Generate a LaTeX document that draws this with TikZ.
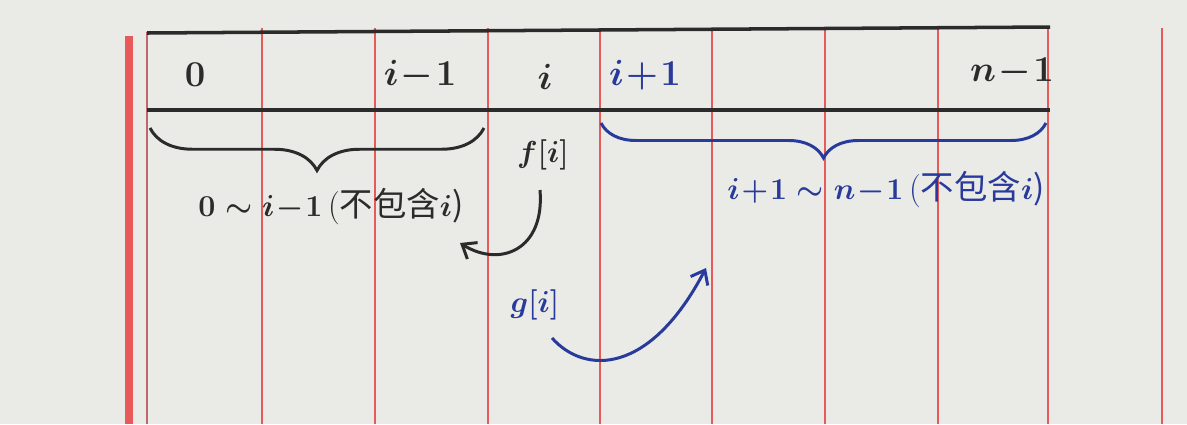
\documentclass[tikz,border=0pt]{standalone}
\usepackage{fontspec}
\newfontfamily\cjk{Noto Sans CJK SC}
\usetikzlibrary{decorations.pathreplacing,arrows.meta}
\definecolor{paper}{HTML}{EAEAE7}
\definecolor{ink}{HTML}{2B2B2B}
\definecolor{blueink}{HTML}{283A9A}
\definecolor{redline}{HTML}{E85A5A}
\tikzset{
  rule/.style={redline, line width=1.2pt},
  border/.style={ink, line width=2pt},
  lbl/.style={font=\fontsize{21}{25}\selectfont\boldmath, inner sep=0pt},
  note/.style={font=\fontsize{19}{23}\selectfont\boldmath, inner sep=0pt},
  bracepath/.style={decorate, decoration={brace, mirror, amplitude=#1}, line width=1.7pt},
  arr/.style={line width=1.7pt, -{Straight Barb[length=7pt,width=11pt]}}
}
\begin{document}
\begin{tikzpicture}[x=0.02cm,y=-0.02cm]
\fill[paper] (0,0) rectangle (1187,424);
\useasboundingbox (0,0) rectangle (1187,424);
% margin line
\draw[redline, line width=4pt] (129,36) -- (129,424);
% vertical red rules
\draw[redline!60!gray, line width=0.8pt] (147,32) -- (147,424);
\foreach \x in {262,375,488,600,712,825,938,1048,1162}
  \draw[rule] (\x,28) -- (\x,424);
% table horizontal lines
\draw[border] (147,33) -- (1050,27);
\draw[border] (147,110) -- (1050,110);
% index labels
\node[lbl, ink] (c0) at (195,75) {$0$};
\node[lbl, ink] (cim) at (420,75) {$i\!-\!1$};
\node[lbl, ink] (ci) at (545,77) {$i$};
\node[lbl, blueink] (cip) at (645,75) {$i\!+\!1$};
\node[lbl, ink] (cn) at (1012,72) {$n\!-\!1$};
% braces
\draw[bracepath=0.85cm, ink] (150,128) -- (484,128);
\draw[bracepath=0.7cm, blueink] (601,123) -- (1046,123);
% range labels
\node[note, ink] (lrange) at (331,207) {$0\sim i\!-\!1$\,(\cjk 不包含$i$)};
\node[note, blueink] (rrange) at (886,190) {$i\!+\!1\sim n\!-\!1$\,(\cjk 不包含$i$)};
% f and g
\node[note, ink] (f) at (543,155) {$f[i]$};
\node[note, blueink] (g) at (535,305) {$g[i]$};
\coordinate (fstart) at (540,190);
\coordinate (fend) at (460,243);
\coordinate (gstart) at (552,338);
\coordinate (gend) at (706,268);
\draw[arr, ink] (fstart) .. controls (545,250) and (500,268) .. (fend);
\draw[arr, blueink] (gstart) .. controls (585,375) and (650,375) .. (gend);
\end{tikzpicture}
\end{document}
